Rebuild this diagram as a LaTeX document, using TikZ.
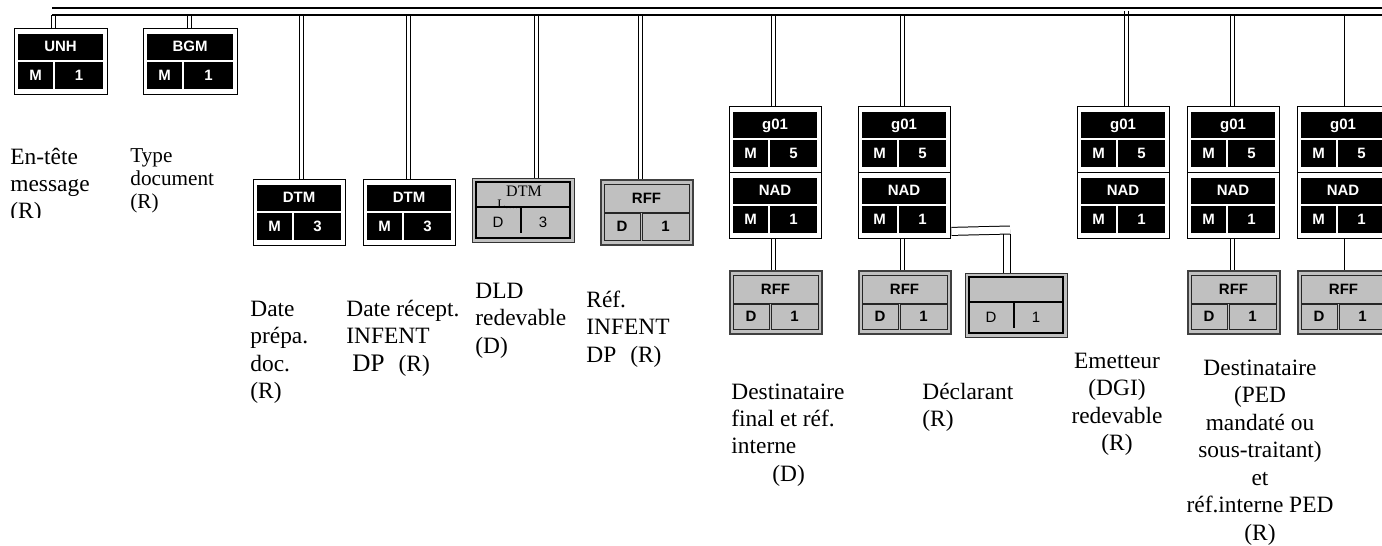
\documentclass[tikz,border=0pt]{standalone}
\usepackage{fontspec}
\setmainfont{Liberation Serif}
\newfontfamily\arial{Liberation Sans}
\usetikzlibrary{backgrounds,calc}
\definecolor{cgray}{HTML}{C0C0C0}
\tikzset{
  x=0.5pt, y=-0.5pt,
  mframe/.style={draw=black, line width=0.7pt, fill=white, inner sep=0pt, minimum height=33pt, anchor=north west},
  gframe/.style={draw=black!75, line width=1pt, fill=cgray, inner sep=0pt, minimum width=46pt, anchor=north west},
  dframe/.style={draw=black!80, line width=0.6pt, fill=cgray, inner sep=0pt, minimum width=51pt, minimum height=32pt, anchor=north west},
  dinner/.style={draw=black, line width=1pt, fill=cgray},
  dsep/.style={draw=black, line width=1pt},
  gcell/.style={draw=black!85, line width=0.5pt, fill=cgray},
  btxt/.style={text=white, font=\arial\bfseries\fontsize{7.5}{8}\selectfont, inner sep=0pt, text height=5.4pt, text depth=0pt},
  gtxt/.style={text=black, font=\arial\bfseries\fontsize{7.5}{8}\selectfont, inner sep=0pt, text height=5.4pt, text depth=0pt},
  rtxt/.style={text=black, font=\arial\fontsize{7.5}{8}\selectfont, inner sep=0pt, text height=5.4pt, text depth=0pt},
  drop/.style={draw=black, double=white, double distance=1.5pt, line width=0.5pt},
  wdrop/.style={draw=black, double=white, double distance=3.5pt, line width=0.5pt},
  vdrop/.style={draw=black, double=white, double distance=3pt, line width=0.5pt},
  sdrop/.style={draw=black, line width=0.5pt},
  busline/.style={draw=black, line width=0.6pt},
  lbl/.style={inner sep=0pt, align=left, anchor=north west},
  clbl/.style={inner sep=0pt, align=center, anchor=north},
}
% black segment box: name, x, y, w, header, left, right
\newcommand\blkbox[7]{%
  \node[mframe, minimum width=#4*0.5pt] (#1) at (#2,#3) {};
  \fill[black] (#2+4,#3+5.5) rectangle (#2+#4-4,#3+31.5);
  \fill[black] (#2+4,#3+33.5) rectangle (#2+39,#3+60.5);
  \fill[black] (#2+41,#3+33.5) rectangle (#2+#4-4,#3+60.5);
  \node[btxt] at (#2+#4/2,#3+18.5) {#5};
  \node[btxt] at (#2+21.5,#3+47) {#6};
  \node[btxt] at (#2+#4/2+18.5,#3+47) {#7};
}
% gray segment box: name, x, y, h, header, left, right
\newcommand\grybox[7]{%
  \node[gframe, minimum height=#4*0.5pt] (#1) at (#2,#3) {};
  \path[gcell] (#2+4,#3+5) rectangle (#2+89,#3+33);
  \path[gcell] (#2+4,#3+34) rectangle (#2+40,#3+#4-4);
  \path[gcell] (#2+42,#3+34) rectangle (#2+89,#3+#4-4);
  \node[gtxt] at (#2+46.5,#3+19) {#5};
  \node[gtxt] at (#2+22,#3+15+#4/2) {#6};
  \node[gtxt] at (#2+65.5,#3+15+#4/2) {#7};
}
% double bordered box: name, x, y, header code, left, right
\newcommand\dblbox[6]{%
  \node[dframe] (#1) at (#2,#3) {};
  \path[dinner] (#2+4,#3+4) rectangle (#2+98,#3+60);
  #4
  \draw[dsep] (#2+4,#3+29) -- (#2+98,#3+29);
  \draw[dsep] (#2+49,#3+29) -- (#2+49,#3+55);
  \node[rtxt] at (#2+26,#3+44) {#5};
  \node[rtxt] at (#2+71,#3+44) {#6};
}
\begin{document}
\begin{tikzpicture}
\useasboundingbox (0,0) rectangle (1382,546);
\clip (0,0) rectangle (1382,546);

% ---------- segment boxes ----------
\blkbox{unh}{14}{28}{93}{UNH}{M}{1}
\blkbox{bgm}{143}{28}{94}{BGM}{M}{1}
\blkbox{dtmA}{253}{179}{92}{DTM}{M}{3}
\blkbox{dtmB}{363}{179}{92}{DTM}{M}{3}
\dblbox{dtmC}{472}{178}{%
  \node[inner sep=0pt, anchor=base, font=\fontsize{8}{9}\selectfont] (dtmCh) at (524,196) {DTM};
  \node[inner sep=0pt, anchor=base west, font=\fontsize{6.5}{7}\selectfont] (dtmCl) at (497,208) {L.....};
}{D}{3}
\grybox{rffT}{600}{179}{65}{RFF}{D}{1}

\blkbox{gA}{729}{106}{92}{g01}{M}{5}
\blkbox{nA}{729}{172}{92}{NAD}{M}{1}
\grybox{rA}{729}{270}{63}{RFF}{D}{1}

\blkbox{gB}{858}{106}{92}{g01}{M}{5}
\blkbox{nB}{858}{172}{92}{NAD}{M}{1}
\grybox{rB}{858}{270}{63}{RFF}{D}{1}
\dblbox{decl}{965}{273}{}{D}{1}

\blkbox{gC}{1077}{106}{92}{g01}{M}{5}
\blkbox{nC}{1077}{172}{92}{NAD}{M}{1}

\blkbox{gD}{1187}{106}{92}{g01}{M}{5}
\blkbox{nD}{1187}{172}{92}{NAD}{M}{1}
\grybox{rD}{1187}{270}{63}{RFF}{D}{1}

\blkbox{gE}{1297}{106}{92}{g01}{M}{5}
\blkbox{nE}{1297}{172}{92}{NAD}{M}{1}
\grybox{rE}{1297}{270}{63}{RFF}{D}{1}

% ---------- connectors ----------
\begin{scope}[on background layer]
  \coordinate (pU) at (53.5,15);
  \coordinate (pB) at (189.5,15);
  \coordinate (pD1) at (301,15);
  \coordinate (pD2) at (408,15);
  \coordinate (pD3) at (536,15);
  \coordinate (pR) at (640,15);
  \coordinate (pA) at (773,15);
  \coordinate (pBB) at (902,15);
  \coordinate (pC) at (1126,11);
  \coordinate (pDD) at (1232,15);
  \coordinate (pE) at (1344,15);
  \draw[drop] (pU) -- (pU |- unh.north);
  \draw[drop] (pB) -- (pB |- bgm.north);
  \draw[drop] (pD1) -- (pD1 |- dtmA.north);
  \draw[drop] (pD2) -- (pD2 |- dtmB.north);
  \draw[drop] (pD3) -- (pD3 |- dtmC.north);
  \draw[drop] (pR) -- (pR |- rffT.north);
  \draw[drop] (pA) -- (pA |- gA.north);
  \draw[drop] (pBB) -- (pBB |- gB.north);
  \draw[drop] (pC) -- (pC |- gC.north);
  \draw[drop] (pDD) -- (pDD |- gD.north);
  \draw[sdrop] (pE) -- (pE |- gE.north);
  \draw[drop] (pA |- nA.south) -- (pA |- rA.north);
  \draw[drop] (pBB |- nB.south) -- (pBB |- rB.north);
  \draw[drop] (pDD |- nD.south) -- (pDD |- rD.north);
  \draw[sdrop] (pE |- nE.south) -- (pE |- rE.north);
  % branch to the third box under Declarant
  \coordinate (brA) at ($(nB.south east)+(0,-8)$);
  \coordinate (brB) at (1010,230);
  \coordinate (brC) at (1006.5,234);
  \draw[vdrop] (brC) -- (brC |- decl.north);
  \draw[wdrop] (brA) -- (brB);
\end{scope}

% ---------- main bus ----------
\coordinate (busA) at (52,8);
\coordinate (busB) at (1390,8);
\coordinate (busC) at (52,15);
\coordinate (busD) at (1390,15);
\draw[busline] (busA) -- (busB);
\draw[busline] (busC) -- (busD);

% ---------- labels ----------
\begin{scope}
  \clip (0,0) rectangle (130,217);
  \node[lbl, font=\fontsize{11.7}{13.5}\selectfont] (tUNH) at (10,144) {\rule{0pt}{10pt}En-tête\\message\\(R)};
\end{scope}
\node[lbl, font=\fontsize{10.6}{11.5}\selectfont] (tBGM) at (130,142) {\rule{0pt}{10pt}Type\\document\\(R)};
\node[lbl, font=\fontsize{11.7}{13.7}\selectfont] (tD1) at (250,296) {\rule{0pt}{10pt}Date\\prépa.\\doc.\\(R)};
\node[lbl, font=\fontsize{11.7}{13.7}\selectfont] (tD2) at (346,296) {\rule{0pt}{10pt}Date récept.\\INFENT\\\hspace*{3pt}{\fontsize{12.6}{13.7}\selectfont DP}\hspace{7pt}(R)};
\node[lbl, font=\fontsize{11.7}{13.7}\selectfont] (tD3) at (475,278) {\rule{0pt}{10pt}DLD\\redevable\\(D)};
\node[lbl, font=\fontsize{11.7}{13.7}\selectfont] (tR) at (586,287) {\rule{0pt}{10pt}Réf.\\INFENT\\DP\hspace{7pt}(R)};
\node[lbl, font=\fontsize{11.7}{13.6}\selectfont] (tA) at (731,379) {\rule{0pt}{10pt}Destinataire\\final et réf.\\interne\\\hspace*{20.5pt}(D)};
\node[lbl, font=\fontsize{11.7}{13.7}\selectfont] (tB) at (922,379) {\rule{0pt}{10pt}Déclarant\\(R)};
\node[clbl, font=\fontsize{11.7}{13.7}\selectfont] (tC) at (1117,348) {\rule{0pt}{10pt}Emetteur\\(DGI)\\redevable\\(R)};
\node[clbl, font=\fontsize{11.7}{13.75}\selectfont] (tDD) at (1260,355) {\rule{0pt}{10pt}Destinataire\\(PED\\mandaté ou\\sous-traitant)\\et\\réf.interne PED\\(R)};
\end{tikzpicture}
\end{document}
